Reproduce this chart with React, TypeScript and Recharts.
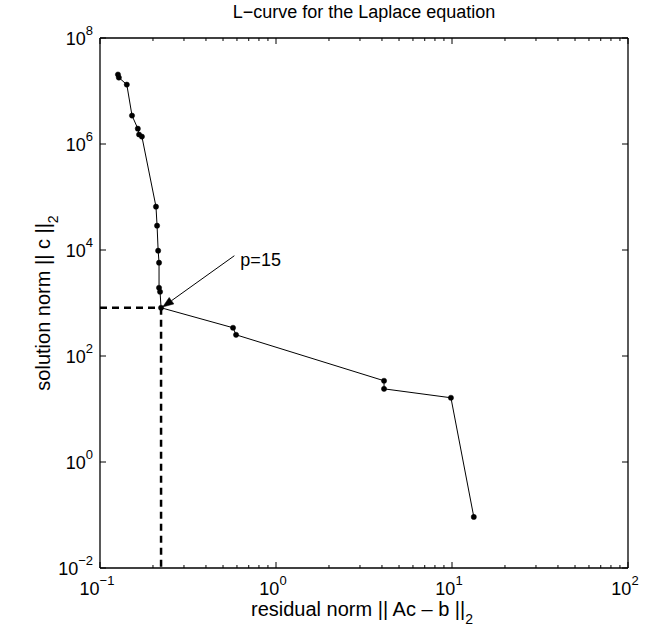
import React from "react";
import {
  ComposedChart,
  Line,
  XAxis,
  YAxis,
  ReferenceLine,
} from "recharts";

// residual norm || Ac - b ||_2
const residual = [
  0.1265, 0.128, 0.142, 0.152, 0.164, 0.1667, 0.173, 0.208, 0.211, 0.214,
  0.2165, 0.2165, 0.2194, 0.2223, 0.57, 0.593, 4.11, 4.11, 9.86, 13.3,
];
// solution norm || c ||_2
const solution = [
  2.05e7, 1.79e7, 1.32e7, 3.44e6, 1.95e6, 1.51e6, 1.38e6, 6.58e4, 2.88e4,
  9.7e3, 5.76e3, 1.94e3, 1.63e3, 813, 341, 251, 34.1, 24.0, 16.3, 0.092,
];

const xMajorTicks = [0.1, 1, 10, 100];
const xMinorTicks = [
  0.2, 0.3, 0.4, 0.5, 0.6, 0.7, 0.8, 0.9, 2, 3, 4, 5, 6, 7, 8, 9, 20, 30, 40,
  50, 60, 70, 80, 90,
];
const yTicks = [0.01, 1, 100, 1e4, 1e6, 1e8];

// corner of the L-curve (p = 15)
const cornerX = 0.2223;
const cornerY = 813;
const annotationTail = { x: 0.58, y: 7.8e3 };
const annotationText = "p=15";

const data = residual.map((r, i) => ({ r, s: solution[i] }));
const xTicks = [...xMajorTicks, ...xMinorTicks].sort((a, b) => a - b);

const FONT = "'Liberation Sans', Arial, Helvetica, sans-serif";

const isMajor = (v: number) =>
  Math.abs(Math.log10(v) - Math.round(Math.log10(v))) < 1e-9;

const expStr = (v: number) => {
  const e = Math.round(Math.log10(v));
  return e < 0 ? "\u2212" + Math.abs(e) : String(e);
};

const XTick = (props: any) => {
  const { x, y, payload, side } = props;
  const v = payload.value;
  const major = isMajor(v);
  const len = major ? 6 : 3;
  const dir = side === "top" ? 1 : -1;
  return (
    <g>
      <line x1={x} y1={y} x2={x} y2={y + dir * len} stroke="#000" strokeWidth={1} />
      {side !== "top" && major ? (
        <text x={x - 3} y={y + 27} textAnchor="middle" fontFamily={FONT} fontSize={18} fill="#000">
          <tspan>10</tspan>
          <tspan dy={-10} fontSize={13}>{expStr(v)}</tspan>
        </text>
      ) : null}
    </g>
  );
};

const YTick = (props: any) => {
  const { x, y, payload, side } = props;
  const v = payload.value;
  const dir = side === "right" ? -1 : 1;
  return (
    <g>
      <line x1={x} y1={y} x2={x + dir * 6} y2={y} stroke="#000" strokeWidth={1} />
      {side !== "right" ? (
        <text x={x - 7} y={y + 7} textAnchor="end" fontFamily={FONT} fontSize={18} fill="#000">
          <tspan>10</tspan>
          <tspan dy={-10} fontSize={13}>{expStr(v)}</tspan>
        </text>
      ) : null}
    </g>
  );
};

const ArrowShape = (props: any) => {
  const { x1, y1, x2, y2 } = props;
  if (x1 == null) return null;
  const ang = Math.atan2(y2 - y1, x2 - x1);
  const L = 11;
  const W = 4;
  const bx = x2 - L * Math.cos(ang);
  const by = y2 - L * Math.sin(ang);
  const px = -Math.sin(ang);
  const py = Math.cos(ang);
  return (
    <g>
      <line x1={x1} y1={y1} x2={bx} y2={by} stroke="#000" strokeWidth={1} />
      <polygon
        points={`${x2},${y2} ${bx + px * W},${by + py * W} ${bx - px * W},${by - py * W}`}
        fill="#000"
        stroke="#000"
        strokeWidth={0.5}
      />
      <text x={x1 + 6} y={y1 + 10} fontFamily={FONT} fontSize={18} fill="#000">
        {annotationText}
      </text>
    </g>
  );
};

const axisLine = { stroke: "#000", strokeWidth: 1.3 };

export default function App() {
  return (
    <div style={{ position: "absolute", left: 0, top: 0, width: 656, height: 636, background: "#fff" }}>
      <ComposedChart
        width={656}
        height={636}
        data={data}
        margin={{ top: 37, right: 27, bottom: 18, left: 40 }}
      >
        <XAxis
          xAxisId="b"
          dataKey="r"
          type="number"
          scale="log"
          domain={[0.1, 100]}
          ticks={xTicks}
          interval={0}
          allowDataOverflow
          tickSize={0}
          tickMargin={0}
          tickLine={false}
          axisLine={axisLine}
          tick={<XTick side="bottom" />}
          height={50}
        />
        <XAxis
          xAxisId="t"
          orientation="top"
          dataKey="r"
          type="number"
          scale="log"
          domain={[0.1, 100]}
          ticks={xTicks}
          interval={0}
          allowDataOverflow
          tickSize={0}
          tickMargin={0}
          tickLine={false}
          axisLine={axisLine}
          tick={<XTick side="top" />}
          height={1}
        />
        <YAxis
          yAxisId="l"
          type="number"
          scale="log"
          domain={[0.01, 1e8]}
          ticks={yTicks}
          interval={0}
          allowDataOverflow
          tickSize={0}
          tickMargin={0}
          tickLine={false}
          axisLine={axisLine}
          tick={<YTick side="left" />}
          width={60}
        />
        <YAxis
          yAxisId="r"
          orientation="right"
          type="number"
          scale="log"
          domain={[0.01, 1e8]}
          ticks={yTicks}
          interval={0}
          allowDataOverflow
          tickSize={0}
          tickMargin={0}
          tickLine={false}
          axisLine={axisLine}
          tick={<YTick side="right" />}
          width={1}
        />
        <ReferenceLine
          xAxisId="b"
          yAxisId="l"
          segment={[
            { x: 0.1, y: cornerY },
            { x: cornerX, y: cornerY },
          ]}
          stroke="#000"
          strokeWidth={2.5}
          strokeDasharray="7 5"
        />
        <ReferenceLine
          xAxisId="b"
          yAxisId="l"
          segment={[
            { x: cornerX, y: cornerY },
            { x: cornerX, y: 0.01 },
          ]}
          stroke="#000"
          strokeWidth={2.5}
          strokeDasharray="7 5"
        />
        <Line
          xAxisId="b"
          yAxisId="l"
          dataKey="s"
          type="linear"
          stroke="#000"
          strokeWidth={1}
          dot={{ r: 2.6, fill: "#000", stroke: "#000", strokeWidth: 0.5 }}
          isAnimationActive={false}
        />
        <ReferenceLine
          xAxisId="b"
          yAxisId="l"
          segment={[
            { x: annotationTail.x, y: annotationTail.y },
            { x: cornerX * 1.02, y: cornerY * 1.03 },
          ]}
          shape={<ArrowShape />}
        />
        <text x={364} y={18} textAnchor="middle" fontFamily={FONT} fontSize={18} fill="#000">
          L{"\u2212"}curve for the Laplace equation
        </text>
        <text x={362} y={616} textAnchor="middle" fontFamily={FONT} fontSize={20} fill="#000">
          residual norm || Ac {"\u2013"} b ||
          <tspan dy={8} fontSize={14}>2</tspan>
        </text>
        <text
          x={0}
          y={0}
          transform="translate(50,303) rotate(-90)"
          textAnchor="middle"
          fontFamily={FONT}
          fontSize={20}
          fill="#000"
        >
          solution norm || c ||
          <tspan dy={8} fontSize={14}>2</tspan>
        </text>
      </ComposedChart>
    </div>
  );
}
